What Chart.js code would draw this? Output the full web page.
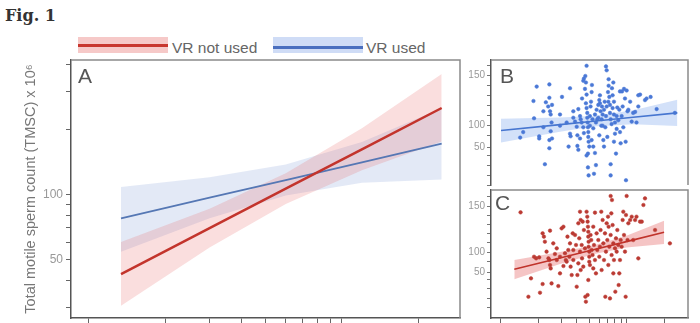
<!DOCTYPE html>
<html>
<head>
<meta charset="utf-8">
<script src="https://cdn.jsdelivr.net/npm/chart.js@4.4.1/dist/chart.umd.min.js"></script>
<style>
  html, body { margin: 0; padding: 0; background: #fff; }
  body { width: 700px; height: 323px; position: relative; overflow: hidden; font-family: "Liberation Sans", Arial, sans-serif; }
  canvas { position: absolute; }
  #chartA { left: 0; top: 50px; }
  #chartB { left: 440px; top: 50px; }
  #chartC { left: 440px; top: 185px; }
  .fig { position: absolute; left: 5px; top: 8px; font: bold 16px/16px "DejaVu Serif", serif; color: #333; }
  .leg-band { position: absolute; top: 37px; width: 90px; height: 16px; }
  .leg-line { position: absolute; left: 0; right: 0; top: 7px; height: 2.5px; }
  .leg-text { position: absolute; top: 40px; font-size: 15.5px; line-height: 16px; color: #666; }
  .panel { position: absolute; font-size: 21px; line-height: 21px; color: #555; }
</style>
</head>
<body>
<div class="fig">Fig. 1</div>
<div class="leg-band" style="left:78px; background:#f6c9c8;"><div class="leg-line" style="background:#c8372f;"></div></div>
<div class="leg-text" style="left:172px;">VR not used</div>
<div class="leg-band" style="left:273px; background:#cfdcf6;"><div class="leg-line" style="top:9px; background:#4a6fbf;"></div></div>
<div class="leg-text" style="left:366px;">VR used</div>

<canvas id="chartA" width="470" height="273"></canvas>
<canvas id="chartB" width="260" height="145"></canvas>
<canvas id="chartC" width="260" height="138"></canvas>

<div class="panel" style="left:78px; top:65px;">A</div>
<div class="panel" style="left:500px; top:65px;">B</div>
<div class="panel" style="left:495px; top:192px;">C</div>

<script>
// Panel A: fitted lines and confidence bands (log-log)
const aX = [1.34, 3, 6, 12, 24.8];
const notUsedFit = [42.7, 69.8, 106.4, 162, 252];
const notUsedLow = [30.4, 56.8, 90.4, 129.4, 176];
const notUsedHigh = [60.1, 85.9, 125.3, 203, 362];
const usedFit = [77.4, 96.6, 116.7, 141, 172];
const usedLow = [54.2, 77.6, 98.9, 113.2, 117.5];
const usedHigh = [108.4, 120.2, 137.7, 175.4, 251.2];

// Axis ticks
const xTicks = [1, 2, 3, 4, 5, 6, 7, 8, 9, 10, 20];
const aYTicks = [30, 40, 50, 60, 70, 80, 90, 100, 200, 300, 400];
const aYLabels = [50, 100];
const smallYTicks = [40, 50, 60, 70, 78, 90, 100, 110, 120, 130, 140, 150, 160];
const smallYLabelAt = [150, 100, 78];
const smallYLabelText = ['150', '100', '50'];

// Panel B: VR used
const bFitX = [1.0, 2.94, 5.4, 11.2, 25.1];
const bFit = [94.9, 100.8, 104.1, 108.2, 112.5];
const bLow = [83.0, 93.75, 99.0, 101.1, 99.3];
const bHigh = [106.7, 107.9, 109.3, 115.2, 125.7];
const bX = [1.42,1.50,1.92,1.81,1.83,2.01,2.01,2.17,2.17,2.23,
  2.27,2.42,2.42,2.45,2.48,2.52,2.48,2.42,2.42,2.54,
  2.54,2.37,2.94,3.05,3.53,3.53,3.57,3.44,3.75,3.87,
  3.99,4.04,4.04,4.11,4.11,4.24,4.29,4.40,4.50,4.55,
  4.67,4.72,4.78,4.64,4.78,4.72,4.78,4.84,4.84,4.87,
  4.90,4.93,4.93,4.96,5.02,4.90,4.78,4.90,4.96,5.08,
  5.08,5.14,5.18,5.24,5.27,5.33,5.40,5.47,5.57,5.67,
  5.74,5.81,5.92,6.03,6.10,6.17,6.25,6.33,6.41,6.49,
  6.57,6.65,6.73,6.81,6.90,6.98,7.07,7.15,7.15,7.24,
  7.33,7.33,7.42,7.42,7.55,7.60,7.69,7.79,7.88,7.88,
  8.03,8.18,8.28,8.38,8.53,8.69,8.80,8.91,9.07,9.13,
  9.24,9.35,9.47,9.64,9.76,9.82,9.94,10.1,10.25,10.6,
  10.9,11.2,11.6,11.9,12.3,12.3,12.7,13.9,14.3,15.4,
  17.2,24.0,
  5.57,5.67,5.92,6.10,6.29,6.57,6.81,6.90,7.11,7.42,7.69,8.03,8.28,
  4.37,4.50,4.55,4.24,5.24,5.40,6.03,6.41,7.88,8.80,2.94,3.32,3.75];
const bY = [87.8,93.3,138.8,124.4,107.1,89.1,86.9,114.1,98.1,61.2,
  123.1,141.0,127.6,114.1,110.9,102.9,94.2,85.3,77.2,120.5,
  86.9,118.9,99.7,128.5,137.2,91.7,89.1,78.8,107.7,103.8,
  98.7,90.1,79.5,75.6,116.3,109.3,106.1,126.9,144.6,146.8,
  149.4,142.9,159.6,136.5,130.8,122.1,117.3,112.5,107.7,102.9,
  98.1,93.3,88.5,83.7,78.8,71.8,69.9,58.0,50.0,99.7,
  109.3,118.9,123.7,133.3,140.4,106.1,97.1,51.6,72.4,60.3,
  115.7,106.1,120.5,125.3,130.1,114.1,99.7,118.9,110.9,85.3,
  78.8,123.7,98.1,159.0,155.1,88.5,133.3,139.7,146.2,128.5,
  112.5,120.5,61.2,50.0,101.3,137.2,130.1,142.9,123.7,110.9,
  91.7,71.8,96.5,117.9,105.1,115.7,134.0,82.1,109.3,134.0,
  118.9,98.1,136.5,126.9,83.7,45.2,134.9,114.1,115.7,123.7,
  103.8,112.5,113.5,102.9,118.9,130.1,130.8,125.3,126.9,128.5,
  116.3,112.5,
  110.9,102.9,107.7,122.1,106.1,115.7,109.3,118.9,123.7,106.1,117.3,102.9,109.3,
  102.9,98.1,92.3,86.9,85.3,78.8,90.1,99.7,83.7,93.3,110.9,102.9,114.1];

// Panel C: VR not used
const cFitX = [1.275, 2.94, 5.4, 9.9, 19.7];
const cFit = [81.2, 93.5, 102.4, 111.3, 121.4];
const cLow = [70.3, 87.0, 97.7, 104.8, 108.7];
const cHigh = [91.3, 100.0, 107.1, 117.8, 134.0];
const cX = [1.43,1.65,1.73,1.83,2.04,2.01,2.14,2.19,2.23,2.14,
  2.30,2.42,2.45,2.48,2.45,2.52,2.60,2.68,2.77,2.85,
  2.94,3.03,3.13,3.22,3.27,3.37,3.42,3.53,3.57,3.64,
  3.71,3.75,3.87,3.94,3.99,4.04,4.11,4.11,4.18,4.24,
  4.29,4.37,4.40,4.45,4.50,4.55,4.64,4.67,4.72,4.78,
  4.84,4.87,4.90,4.93,4.93,4.96,4.96,5.02,5.02,5.02,
  5.08,4.93,4.87,5.14,5.20,5.24,5.33,5.40,5.40,5.47,
  5.57,5.57,5.67,5.74,5.81,5.92,6.03,6.10,6.17,6.25,
  6.29,6.41,6.49,6.57,6.69,6.73,6.81,6.90,6.98,7.07,
  7.11,7.15,7.24,7.33,7.42,7.42,7.51,7.55,7.60,7.69,
  7.79,7.79,7.88,8.03,8.08,8.18,8.28,8.38,8.53,8.59,
  8.69,8.80,8.91,9.07,9.24,9.35,9.47,9.64,9.76,9.82,
  9.94,10.1,10.25,10.6,10.9,11.2,11.6,11.9,12.3,12.7,
  13.1,13.5,13.9,16.7,21.9,4.24,4.29,1.90,2.38,2.77,
  2.94,3.13,3.32,3.49,3.75];
const cY = [143.1,51.4,71.4,94.9,55.8,94.2,120.3,116.7,111.2,65.2,
  100.4,91.3,85.9,82.2,123.2,65.9,109.4,97.8,91.3,63.0,
  76.8,125.7,127.5,98.6,91.3,116.7,102.2,109.4,84.1,75.0,
  120.3,91.3,118.5,107.6,62.3,75.0,131.2,87.7,114.9,100.4,
  80.4,107.6,93.1,133.0,84.1,123.9,104.0,51.4,46.0,143.8,
  138.4,133.0,127.5,122.1,116.7,111.2,105.8,100.4,94.9,89.5,
  85.9,69.6,53.3,118.5,113.0,102.2,96.7,127.5,82.2,107.6,
  142.8,91.3,76.8,120.3,102.2,113.0,94.9,105.8,123.9,143.8,
  80.4,134.8,109.4,91.3,120.3,51.4,100.4,131.2,113.0,138.4,
  85.9,127.5,105.8,49.6,160.9,118.5,142.0,96.7,156.5,129.3,
  109.4,76.8,91.3,104.0,56.9,114.9,100.4,123.9,107.6,64.1,
  76.8,91.3,113.0,105.8,134.8,143.8,118.5,100.4,51.4,140.2,
  160.9,113.0,131.2,134.8,138.4,113.0,134.8,138.4,93.1,133.0,
  133.0,151.1,158.3,123.9,109.4,143.8,134.8,93.1,93.1,104.0,
  94.9,84.8,89.5,94.9,102.2];

const RED = '#c3342c';
const BLUE_A = '#5577b4';
const BLUE = '#4a78d6';
const AXIS = '#555';
const BOX = '#8a8a8a';

Chart.defaults.font.family = '"Liberation Sans", Arial, sans-serif';
Chart.defaults.animation = false;

function pts(xs, ys) {
  return xs.map((x, i) => ({ x: x, y: ys[i] }));
}

// top and right sides of each panel box
const boxPlugin = {
  id: 'box',
  afterDraw(chart) {
    const { ctx, chartArea: a } = chart;
    ctx.save();
    ctx.strokeStyle = BOX;
    ctx.lineWidth = 1.5;
    ctx.beginPath();
    ctx.moveTo(a.left, a.top);
    ctx.lineTo(a.right, a.top);
    ctx.lineTo(a.right, a.bottom);
    ctx.stroke();
    ctx.restore();
  }
};

function lineSet(xs, ys, color, width) {
  return { data: pts(xs, ys), showLine: true, borderColor: color, borderWidth: width, pointRadius: 0 };
}
function bandSet(xs, ys, fillColor) {
  return {
    data: pts(xs, ys), showLine: true, borderColor: 'transparent', borderWidth: 0,
    pointRadius: 0, fill: fillColor ? '+1' : false, backgroundColor: fillColor || 'transparent'
  };
}

function xAxis(min, max, show) {
  return {
    type: 'logarithmic', min: min, max: max, display: show,
    afterBuildTicks: s => { s.ticks = xTicks.map(v => ({ value: v })); },
    afterFit: s => { s.height = 5; s.paddingLeft = 0; s.paddingRight = 0; },
    ticks: { callback: () => '', autoSkip: false, maxRotation: 0 },
    grid: { drawOnChartArea: false, tickLength: 5, color: '#666' },
    border: { color: AXIS, width: 1.5 }
  };
}

// Panel A
new Chart(document.getElementById('chartA'), {
  type: 'scatter',
  data: {
    datasets: [
      lineSet(aX, notUsedFit, RED, 2.5),
      lineSet(aX, usedFit, BLUE_A, 1.8),
      bandSet(aX, notUsedHigh, 'rgba(228, 92, 92, 0.2)'),
      bandSet(aX, notUsedLow),
      bandSet(aX, usedHigh, 'rgba(100, 135, 205, 0.18)'),
      bandSet(aX, usedLow)
    ]
  },
  options: {
    responsive: false,
    devicePixelRatio: 1,
    layout: { padding: { top: 10, right: 10, left: 0, bottom: 0 } },
    plugins: { legend: { display: false }, tooltip: { enabled: false } },
    scales: {
      x: xAxis(0.85, 29.3, true),
      y: {
        type: 'logarithmic', min: 26.7, max: 421,
        afterBuildTicks: s => { s.ticks = aYTicks.map(v => ({ value: v })); },
        afterFit: s => { s.width = 71; s.paddingTop = 0; s.paddingBottom = 0; },
        ticks: {
          callback: v => aYLabels.includes(v) ? String(v) : '',
          color: '#999', font: { size: 12 }, padding: 3, autoSkip: false
        },
        grid: { drawOnChartArea: false, tickLength: 5, color: '#666' },
        border: { color: AXIS, width: 1.5 },
        title: {
          display: true, text: 'Total motile sperm count (TMSC) x 10⁶',
          color: '#777', font: { size: 14.5 }, padding: { top: 22, bottom: 0 }
        }
      }
    }
  },
  plugins: [boxPlugin]
});

function smallY(min, max) {
  return {
    type: 'linear', min: min, max: max,
    afterBuildTicks: s => { s.ticks = smallYTicks.map(v => ({ value: v })); },
    afterFit: s => { s.width = 51; s.paddingTop = 0; s.paddingBottom = 0; },
    ticks: {
      callback: v => {
        const i = smallYLabelAt.indexOf(v);
        return i >= 0 ? smallYLabelText[i] : '';
      },
      color: '#999', font: { size: 10 }, padding: 2, autoSkip: false
    },
    grid: { drawOnChartArea: false, tickLength: 4, color: '#777' },
    border: { color: AXIS, width: 1.5 }
  };
}

function smallChart(id, fx, fit, low, high, xs, ys, lineColor, dotColor, bandColor, padding, showX) {
  return new Chart(document.getElementById(id), {
    type: 'scatter',
    data: {
      datasets: [
        lineSet(fx, fit, lineColor, 1.6),
        { data: pts(xs, ys), pointRadius: 1.8, pointBackgroundColor: dotColor, pointBorderColor: dotColor, pointBorderWidth: 0.5 },
        bandSet(fx, high, bandColor),
        bandSet(fx, low)
      ]
    },
    options: {
      responsive: false,
      devicePixelRatio: 1,
      layout: { padding: padding },
      plugins: { legend: { display: false }, tooltip: { enabled: false } },
      scales: {
        x: xAxis(0.833, 30.5, showX),
        y: id === 'chartB' ? smallY(40.4, 165.4) : smallY(28.3, 167.4)
      }
    },
    plugins: [boxPlugin]
  });
}

smallChart('chartB', bFitX, bFit, bLow, bHigh, bX, bY, '#4776d0', BLUE, 'rgba(110, 155, 235, 0.3)',
  { top: 10, right: 12, left: 0, bottom: 5 }, false);
smallChart('chartC', cFitX, cFit, cLow, cHigh, cX, cY, '#c0332b', '#bb3a33', 'rgba(225, 90, 90, 0.35)',
  { top: 5, right: 12, left: 0, bottom: 0 }, true);
</script>
</body>
</html>
